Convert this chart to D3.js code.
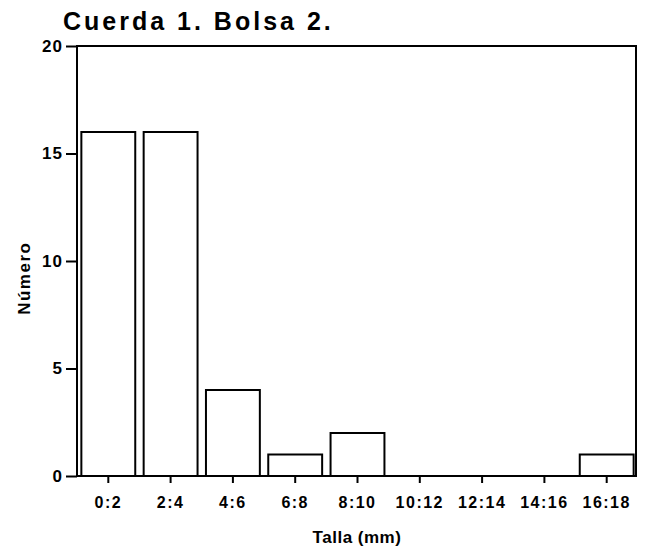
<!DOCTYPE html>
<html>
<head>
<meta charset="utf-8">
<script src="https://cdn.jsdelivr.net/npm/d3@7"></script>
<style>
  body { margin: 0; background: #fff; }
  text { font-family: "Liberation Sans", Arial, sans-serif; font-weight: bold; fill: #000; }
</style>
</head>
<body>
<script>
var categories = ['0:2', '2:4', '4:6', '6:8', '8:10', '10:12', '12:14', '14:16', '16:18'];
var counts = [16, 16, 4, 1, 2, 0, 0, 0, 1];
var yTicks = [0, 5, 10, 15, 20];

var width = 654;
var height = 552;
var margin = { top: 46, right: 18, bottom: 76, left: 77 };

var svg = d3.select('body').append('svg')
  .attr('width', width)
  .attr('height', height);

var x = d3.scaleBand()
  .domain(categories)
  .range([margin.left, width - margin.right + 2])
  .paddingInner(0.135)
  .paddingOuter(0.07);

var y = d3.scaleLinear()
  .domain([0, 20])
  .range([height - margin.bottom, margin.top]);

// frame
svg.append('rect')
  .attr('x', margin.left)
  .attr('y', margin.top)
  .attr('width', width - margin.right - margin.left)
  .attr('height', height - margin.bottom - margin.top)
  .attr('fill', 'none')
  .attr('stroke', '#000')
  .attr('stroke-width', 2);

// bars
svg.selectAll('.bar')
  .data(counts)
  .enter()
  .append('rect')
  .attr('class', 'bar')
  .attr('x', function (d, i) { return x(categories[i]); })
  .attr('y', function (d) { return y(d); })
  .attr('width', x.bandwidth())
  .attr('height', function (d) { return y(0) - y(d); })
  .attr('fill', '#fff')
  .attr('stroke', '#000')
  .attr('stroke-width', function (d) { return d > 0 ? 2 : 0; });

// y axis
var yAxis = svg.append('g')
  .attr('transform', 'translate(' + margin.left + ',0)')
  .call(d3.axisLeft(y).tickValues(yTicks).tickSize(11).tickPadding(3));
yAxis.select('.domain').remove();
yAxis.selectAll('line').attr('stroke-width', 2);
yAxis.selectAll('text')
  .style('font-size', '17px')
  .style('letter-spacing', '1px');

// x axis
var xAxis = svg.append('g')
  .attr('transform', 'translate(0,' + y(0) + ')')
  .call(d3.axisBottom(x).tickSize(7).tickPadding(14));
xAxis.select('.domain').remove();
xAxis.selectAll('line').attr('stroke-width', 2);
xAxis.selectAll('text')
  .style('font-size', '16px')
  .style('letter-spacing', '1.5px');

// title
svg.append('text')
  .attr('x', 63)
  .attr('y', 30)
  .style('font-size', '25px')
  .style('letter-spacing', '3px')
  .text('Cuerda 1. Bolsa 2.');

// axis titles
svg.append('text')
  .attr('transform', 'translate(30,' + y(9.2) + ') rotate(-90)')
  .attr('text-anchor', 'middle')
  .style('font-size', '17px')
  .style('letter-spacing', '1.5px')
  .text('Número');

svg.append('text')
  .attr('x', 357)
  .attr('y', 543)
  .attr('text-anchor', 'middle')
  .style('font-size', '17px')
  .style('letter-spacing', '0.5px')
  .text('Talla (mm)');
</script>
</body>
</html>
